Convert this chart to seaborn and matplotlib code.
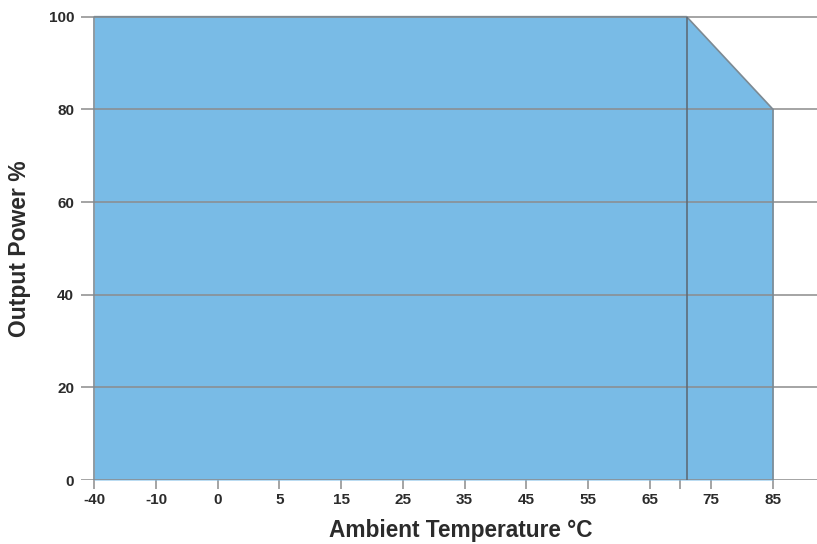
import numpy as np
import pandas as pd
import matplotlib
matplotlib.use("Agg")
import matplotlib.pyplot as plt
import seaborn as sns

# Derating curve: output power vs ambient temperature
temps = [-40, 71, 85]
power = [100, 100, 80]

# Temperature axis is drawn with evenly spaced (non-linear) tick stops
tick_temps = [-40, -10, 0, 5, 15, 25, 35, 45, 55, 65, 75, 85]
tick_labels = ["-40", "-10", "0", "5", "15", "25", "35", "45", "55", "65", "75", "85"]
minor_temps = [70]
y_ticks = [0, 20, 40, 60, 80, 100]

sns.set_theme(style="white")
plt.rcParams["font.family"] = ["Liberation Sans", "DejaVu Sans"]

def to_pos(t):
    return np.interp(t, tick_temps, np.arange(len(tick_temps)))

df = pd.DataFrame({"pos": to_pos(temps), "power": power})

fig = plt.figure(figsize=(8.17, 5.44), dpi=100)
W, H = 817, 544
ax = fig.add_axes([81 / W, 1 - 480 / H, (817 - 81) / W, (480 - 13.9) / H])

fill_col = "#79bbe6"
edge_col = "#7d8a93"
grid_col = "#8c8c8c"
text_col = "#2b2b2b"

ax.fill_between(df["pos"], 0, df["power"], color=fill_col, lw=0, zorder=1)
sns.lineplot(data=df, x="pos", y="power", ax=ax, color=edge_col, lw=1.2,
             zorder=4, estimator=None, sort=False)
ax.vlines([df["pos"].iloc[0], df["pos"].iloc[-1]], 0, [power[0], power[-1]],
          color=edge_col, lw=1.2, zorder=4)
# knee of the curve
ax.vlines(df["pos"].iloc[1], 0, power[1], color="#5c6670", lw=1.1, zorder=4)

for y in y_ticks:
    ax.axhline(y, color=grid_col, lw=1.1, zorder=3)

x_left = (81 - 94.3) / 61.7
x_right = (817 - 94.3) / 61.7
ax.set_xlim(x_left, x_right)
ax.set_ylim(0, 100.6)

major_pos = list(to_pos(tick_temps))
minor_pos = list(to_pos(minor_temps))
ax.set_xticks(major_pos)
ax.set_xticklabels(tick_labels, fontsize=11, fontweight="bold", color=text_col)
ax.set_xticks(minor_pos, minor=True)
ax.tick_params(axis="x", which="both", direction="out", length=6.5, width=1.1,
               color=grid_col, bottom=True, pad=3)

ax.set_yticks(y_ticks)
ax.set_yticklabels([str(v) for v in y_ticks], fontsize=11, fontweight="bold",
                   color=text_col)
ax.tick_params(axis="y", length=0, pad=5)

for s in ax.spines.values():
    s.set_visible(False)
ax.set_xlabel("")
ax.set_ylabel("")

fig.text(460.5 / W, 1 - 531 / H, "Ambient Temperature \u00b0C", ha="center",
         va="center", fontsize=16.3, fontweight="bold", color=text_col)
fig.text(20 / W, 1 - 249 / H, "Output Power %", ha="center", va="center",
         rotation=90, fontsize=16.5, fontweight="bold", color=text_col)

fig.savefig("out.png", dpi=100)
